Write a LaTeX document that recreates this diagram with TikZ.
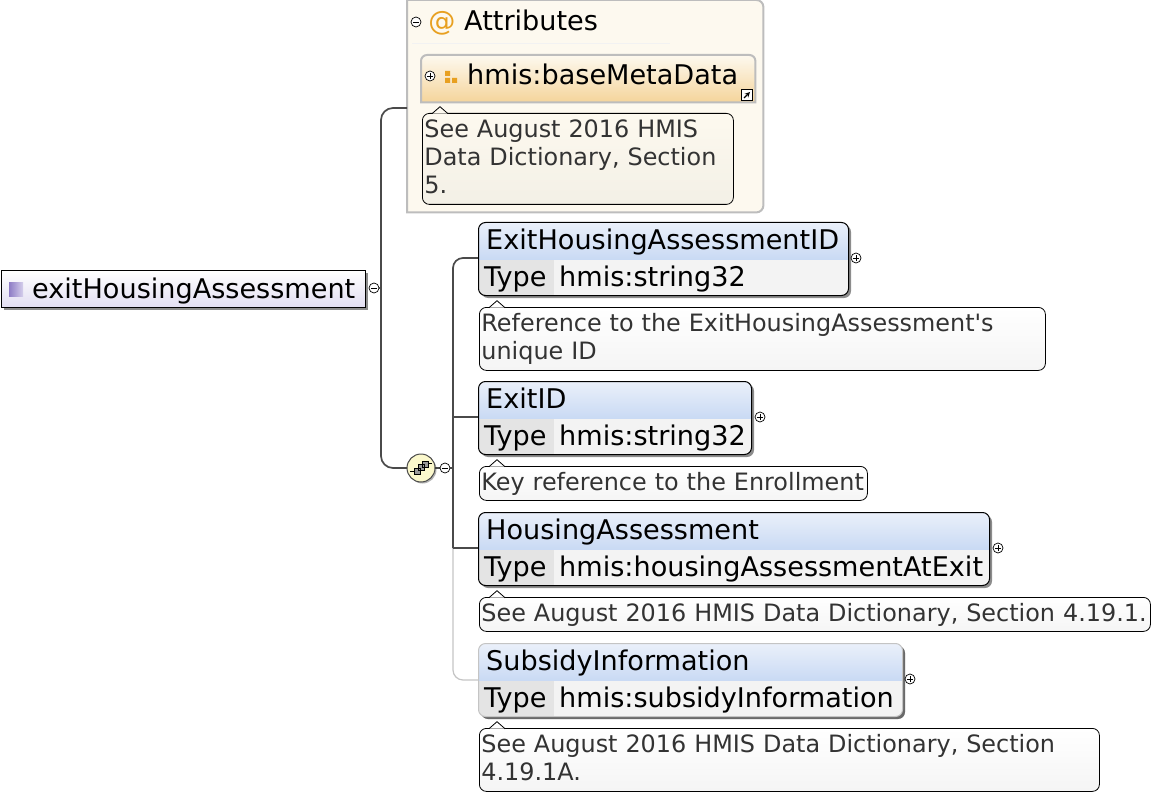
\documentclass[tikz,border=0pt]{standalone}
\usepackage{fontspec}
\setmainfont{DejaVu Sans}[Ligatures=TeXOff]
\usetikzlibrary{shadows}
\definecolor{headtop}{HTML}{EAF0FA}
\definecolor{headmid}{HTML}{C6D7F3}
\definecolor{headbot}{HTML}{A9C4EE}
\definecolor{typerow}{HTML}{F3F3F3}
\definecolor{typecell}{HTML}{E4E4E4}
\definecolor{linegrey}{HTML}{4A4A4A}
\definecolor{paleline}{HTML}{C4C4C4}
\definecolor{attrfill}{HTML}{FDF9EF}
\definecolor{attrline}{HTML}{BDBDBD}
\definecolor{attrnote}{HTML}{F3F0E6}
\definecolor{orangeicon}{HTML}{E8A020}
\definecolor{notetext}{HTML}{333333}
\definecolor{rootbot}{HTML}{E2DEF2}
\definecolor{rootdark}{HTML}{8F7DC6}
\definecolor{rootlight}{HTML}{D6D0EC}
\definecolor{seqfill}{HTML}{FBF8CC}
\tikzset{
  titlefont/.style={font=\fontsize{27.1}{28}\selectfont},
  notefont/.style={font=\fontsize{23.9}{28}\selectfont,text=notetext},
  elembox/.style={draw=black,rounded corners=7pt,fill=typerow,anchor=north west,inner sep=0pt,minimum height=73pt,line width=1pt,
    drop shadow={shadow xshift=2.5pt,shadow yshift=-2.5pt,fill=black,opacity=.45},
    path picture={
      \shade[sharp corners,top color=headtop,middle color=headmid,bottom color=headbot] (path picture bounding box.north west) rectangle ([yshift=-37pt]path picture bounding box.north east);
      \fill[sharp corners,typecell] ([yshift=-37pt]path picture bounding box.north west) rectangle ([xshift=75pt]path picture bounding box.south west);
    }},
  optbox/.style={elembox,draw=paleline,drop shadow={shadow xshift=2.5pt,shadow yshift=-2.5pt,fill=black,opacity=.25}},
  eltitle/.style={titlefont,anchor=base west,inner sep=0pt},
  notebox/.style={draw=black,rounded corners=7pt,top color=white,bottom color=black!4,anchor=north west,inner xsep=2pt,inner ysep=0pt,align=left,notefont,line width=.8pt,
    execute at begin node={\vrule width 0pt height 20pt depth 0pt\relax},execute at end node={\vrule width 0pt height 0pt depth 6pt\relax}},
  notetip/.style={draw=black,fill=white,line width=.8pt},
  expander/.style={circle,draw=black,fill=white,inner sep=0pt,minimum size=10pt,line width=.7pt},
  minusbtn/.style={expander,path picture={\draw[line width=.7pt] ([xshift=-3pt]path picture bounding box.center) -- ([xshift=3pt]path picture bounding box.center);}},
  plusbtn/.style={expander,path picture={\draw[line width=.7pt] ([xshift=-3pt]path picture bounding box.center) -- ([xshift=3pt]path picture bounding box.center) ([yshift=-3pt]path picture bounding box.center) -- ([yshift=3pt]path picture bounding box.center);}},
  link/.style={draw=linegrey,line width=1.7pt},
}
\begin{document}
\begin{tikzpicture}[x=1pt,y=-1pt]
  \useasboundingbox (0,0) rectangle (1158,794);
  % connectors first
  \coordinate (attrjoin) at (407,108);
  \coordinate (spinetop) at (381,108);
  \coordinate (spinebot) at (381,468);
  \coordinate (spinemid) at (381,288);
  \coordinate (seqtop) at (453,258);
  \coordinate (seqmid) at (453,468);
  \coordinate (seqexit) at (453,417);
  \coordinate (seqhouse) at (453,548);
  \coordinate (seqsub) at (453,680);
  \coordinate (exitend) at (478,258);
  \coordinate (exitidend) at (478,417);
  \coordinate (houseend) at (478,548);
  \coordinate (subend) at (478,680);

  % root element
  \node[draw=black,anchor=north west,inner sep=0pt,minimum width=364pt,minimum height=37pt,top color=white,bottom color=rootbot,line width=1pt,drop shadow={shadow xshift=2.5pt,shadow yshift=-2.5pt,fill=black,opacity=.45}] (root) at (1,270) {};
  \node[anchor=north west,inner sep=0pt,minimum size=14pt,left color=rootdark,right color=rootlight] (rooticon) at (9,282) {};
  \node[eltitle] (roottext) at (32,298) {exitHousingAssessment};
  \node[minusbtn] (rootminus) at (374,288) {};

  % attributes
  \node[anchor=north west,inner sep=0pt,minimum width=356pt,minimum height=212pt] (attrbox) at (407,0) {};
  \draw[draw=attrline,fill=attrfill,line width=2pt] (attrbox.north west) [rounded corners=7pt] -- (attrbox.north east) -- (attrbox.south east) [sharp corners] -- (attrbox.south west) -- cycle;
  \draw[black!5,line width=1pt] (412,44) -- (670,44);
  \node[minusbtn] (attrminus) at (416,22) {};
  \node[titlefont,text=orangeicon,inner sep=0pt] (attrat) at (442,23) {@};
  \node[eltitle] (attrtext) at (464,31) {Attributes};
  \node[anchor=north west,inner sep=0pt,minimum width=334pt,minimum height=47pt] (meta) at (421,55) {};
  \draw[draw=attrline,top color=attrfill,bottom color=orangeicon!45,line width=2pt] (meta.south west) [rounded corners=6pt] -- (meta.north west) -- (meta.north east) [sharp corners] -- (meta.south east) -- cycle;
  \node[plusbtn] (metaplus) at (430,76) {};
  \fill[orangeicon] (445,71) rectangle (450,76) (445,78) rectangle (450,83) (452,78) rectangle (457,83);
  \node[eltitle] (metatext) at (467,85) {hmis:baseMetaData};
  \node[draw=black,fill=white,inner sep=0pt,minimum size=11pt,path picture={\draw[black,line width=1.3pt,-stealth] ([shift={(-3pt,-3pt)}]path picture bounding box.center) -- ([shift={(3pt,3pt)}]path picture bounding box.center);}] (metalink) at (747,95) {};
  \node[notebox,top color=attrfill,bottom color=attrnote,minimum width=311pt,minimum height=91pt,text width=307pt] (metanote) at (422,113) {See August 2016 HMIS\\Data Dictionary, Section\\5.};
  \draw[notetip,fill=attrfill] ([shift={(10pt,-.7pt)}]metanote.north west) -- ++(8,-7) -- ++(8,7);

  % compositor
  \draw[link,rounded corners=12pt] (attrjoin) -- (spinetop) -- (spinebot) -- (seqmid);
  \draw[link] (rootminus.east) -- (spinemid);
  \node[circle,draw=linegrey,inner sep=0pt,minimum size=28pt,fill=seqfill,line width=1pt,drop shadow={shadow xshift=1.5pt,shadow yshift=-1.5pt,fill=black,opacity=.3}] (seq) at (421,468) {};
  \draw[line width=.9pt] (410,471) -- (416,471) (426,463) -- (432,463);
  \fill[draw=black,fill=black!40,line width=.5pt] (414,468) rectangle (420,474) (418,464.5) rectangle (424,470.5) (422,461) rectangle (428,467);
  \node[minusbtn] (seqminus) at (445,468) {};
  \draw[paleline,line width=1.2pt,rounded corners=10pt] (seqhouse) -- (seqsub) -- (subend);
  \draw[link,rounded corners=10pt] (exitend) -- (seqtop) -- (seqhouse);
  \draw[link] (seqhouse) -- (houseend) (seqexit) -- (exitidend) (seqminus.east) -- (seqmid);

  % ExitHousingAssessmentID
  \node[elembox,minimum width=370pt] (exithousing) at (478,222) {};
  \node[eltitle] (exithousingtitle) at (486,249) {ExitHousingAssessmentID};
  \node[eltitle] (exithousingtype) at (484,286) {Type};
  \node[eltitle] (exithousingval) at (559,286) {hmis:string32};
  \node[plusbtn] (exithousingplus) at (856,258) {};
  \node[notebox,minimum width=566pt,minimum height=63pt,text width=562pt] (exithousingnote) at (479,307) {Reference to the ExitHousingAssessment's\\unique ID};
  \draw[notetip] ([shift={(10pt,-.7pt)}]exithousingnote.north west) -- ++(8,-7) -- ++(8,7);

  % ExitID
  \node[elembox,minimum width=273pt] (exitid) at (478,381) {};
  \node[eltitle] (exitidtitle) at (486,408) {ExitID};
  \node[eltitle] (exitidtype) at (484,445) {Type};
  \node[eltitle] (exitidval) at (559,445) {hmis:string32};
  \node[plusbtn] (exitidplus) at (760,417) {};
  \node[notebox,minimum width=388pt,minimum height=34pt,text width=384pt] (exitidnote) at (479,466) {Key reference to the Enrollment};
  \draw[notetip] ([shift={(10pt,-.7pt)}]exitidnote.north west) -- ++(8,-7) -- ++(8,7);

  % HousingAssessment
  \node[elembox,minimum width=511pt] (housing) at (478,512) {};
  \node[eltitle] (housingtitle) at (486,539) {HousingAssessment};
  \node[eltitle] (housingtype) at (484,576) {Type};
  \node[eltitle] (housingval) at (559,576) {hmis:housingAssessmentAtExit};
  \node[plusbtn] (housingplus) at (998,548) {};
  \node[notebox,minimum width=671pt,minimum height=34pt,text width=667pt] (housingnote) at (479,597) {See August 2016 HMIS Data Dictionary, Section 4.19.1.};
  \draw[notetip] ([shift={(10pt,-.7pt)}]housingnote.north west) -- ++(8,-7) -- ++(8,7);

  % SubsidyInformation
  \node[optbox,minimum width=424pt] (subsidy) at (478,643) {};
  \node[eltitle] (subsidytitle) at (486,670) {SubsidyInformation};
  \node[eltitle] (subsidytype) at (484,707) {Type};
  \node[eltitle] (subsidyval) at (559,707) {hmis:subsidyInformation};
  \node[plusbtn] (subsidyplus) at (910,679) {};
  \node[notebox,minimum width=620pt,minimum height=63pt,text width=616pt] (subsidynote) at (479,728) {See August 2016 HMIS Data Dictionary, Section\\4.19.1A.};
  \draw[notetip] ([shift={(10pt,-.7pt)}]subsidynote.north west) -- ++(8,-7) -- ++(8,7);
\end{tikzpicture}
\end{document}
